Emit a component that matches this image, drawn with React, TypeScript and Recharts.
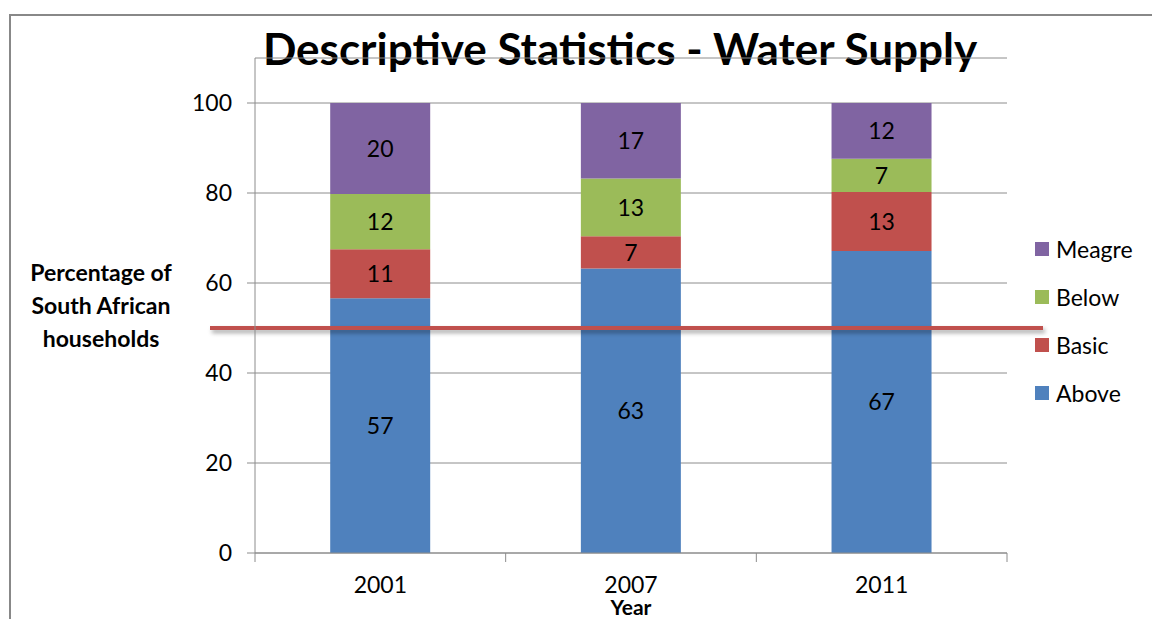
import { BarChart, Bar, XAxis, YAxis, CartesianGrid, ReferenceLine, Legend, LabelList } from "recharts";

const years = ["2001", "2007", "2011"];
const above = [56.6, 63.2, 67.1];
const basic = [10.9, 7.2, 13.1];
const below = [12.3, 12.8, 7.4];
const meagre = [20.2, 16.8, 12.4];
const yTicks = [0, 20, 40, 60, 80, 100];
const threshold = 50;

const series = [
  { key: "Above", color: "#4f81bd" },
  { key: "Basic", color: "#c0504d" },
  { key: "Below", color: "#9bbb59" },
  { key: "Meagre", color: "#8064a2" },
];

const data = years.map((year, i) => ({
  year,
  Above: above[i],
  Basic: basic[i],
  Below: below[i],
  Meagre: meagre[i],
}));

const W = 1152;
const H = 619;
const margin = { top: 58, right: 145, bottom: 0, left: 195 };
const yAxisWidth = 60;
const band = (W - margin.left - margin.right - yAxisWidth) / years.length;
const font = "Lato, 'Open Sans', sans-serif";
const axisColor = "#8c8c8c";
const fs = 23;

function XTick(props: any) {
  const { x, y, payload, index } = props;
  return (
    <g>
      <line x1={x - band / 2} y1={y} x2={x - band / 2} y2={y + 9} stroke={axisColor} />
      {index === years.length - 1 && (
        <line x1={x + band / 2} y1={y} x2={x + band / 2} y2={y + 9} stroke={axisColor} />
      )}
      <text x={x} y={y + 40} textAnchor="middle" fontSize={fs} fill="#000" fontFamily={font}>
        {payload.value}
      </text>
    </g>
  );
}

function YLabel(props: any) {
  const { viewBox } = props;
  const cx = viewBox.x - 94;
  const cy = viewBox.y + viewBox.height / 2;
  const lines = ["Percentage of", "South African", "households"];
  return (
    <text textAnchor="middle" fontSize={fs} fontWeight="bold" fill="#000" fontFamily={font}>
      {lines.map((l, i) => (
        <tspan key={l} x={cx} y={cy + (i - 1) * 33 + 8}>
          {l}
        </tspan>
      ))}
    </text>
  );
}

function XLabel(props: any) {
  const { viewBox } = props;
  return (
    <text
      x={viewBox.x + viewBox.width / 2}
      y={viewBox.y + 62}
      textAnchor="middle"
      fontSize={21}
      fontWeight="bold"
      fill="#000"
      fontFamily={font}
    >
      Year
    </text>
  );
}

function LegendBox(props: any) {
  const items = [...(props.payload || [])].reverse();
  return (
    <div style={{ fontFamily: font, fontSize: fs }}>
      {items.map((it: any) => (
        <div key={it.value} style={{ display: "flex", alignItems: "center", height: 48 }}>
          <span style={{ width: 14, height: 14, background: it.color, marginRight: 7, display: "inline-block" }} />
          <span style={{ color: "#000" }}>{it.value}</span>
        </div>
      ))}
    </div>
  );
}

function ThresholdLine(p: any) {
  return (
    <line
      x1={p.x1 - 45}
      y1={p.y1}
      x2={p.x2 + 36}
      y2={p.y2}
      stroke="#c0504d"
      strokeWidth={4}
      style={{ filter: "drop-shadow(2px 3px 2px rgba(0,0,0,0.35))" }}
    />
  );
}

export default function App() {
  return (
    <div style={{ position: "relative", width: W, height: H, background: "#fff", overflow: "hidden" }}>
      <style>{`body{margin:0}`}</style>
      <div
        style={{
          position: "absolute",
          top: 14,
          left: 9,
          right: 0,
          bottom: 0,
          borderTop: "2px solid #888",
          borderLeft: "2px solid #888",
        }}
      />
      <div
        style={{
          position: "absolute",
          top: 22,
          left: 0,
          width: 1240,
          textAlign: "center",
          fontFamily: font,
          fontWeight: "bold",
          fontSize: 44,
          lineHeight: "53px",
          color: "#000",
        }}
      >
        Descriptive Statistics - Water Supply
      </div>
      <BarChart width={W} height={H} data={data} margin={margin} barCategoryGap="30%">
        <CartesianGrid vertical={false} stroke={axisColor} />
        <XAxis
          dataKey="year"
          height={66}
          stroke={axisColor}
          tickLine={false}
          tickSize={0}
          tickMargin={0}
          tick={<XTick />}
          interval={0}
          label={<XLabel />}
        />
        <YAxis
          width={yAxisWidth}
          domain={[0, 110]}
          ticks={yTicks}
          stroke={axisColor}
          tickSize={8}
          tickMargin={15}
          tick={{ fill: "#000", fontSize: fs, fontFamily: font }}
          label={<YLabel />}
        />
        {series.map((s) => (
          <Bar key={s.key} dataKey={s.key} stackId="a" fill={s.color} isAnimationActive={false}>
            <LabelList
              dataKey={s.key}
              position="center"
              fill="#000"
              fontSize={fs}
              fontFamily={font}
              formatter={(v: any) => Math.round(Number(v))}
            />
          </Bar>
        ))}
        <ReferenceLine y={threshold} shape={<ThresholdLine />} />
        <Legend
          layout="vertical"
          align="center"
          verticalAlign="middle"
          content={<LegendBox />}
          wrapperStyle={{ left: 1035, top: 225, width: 117 }}
        />
      </BarChart>
    </div>
  );
}
